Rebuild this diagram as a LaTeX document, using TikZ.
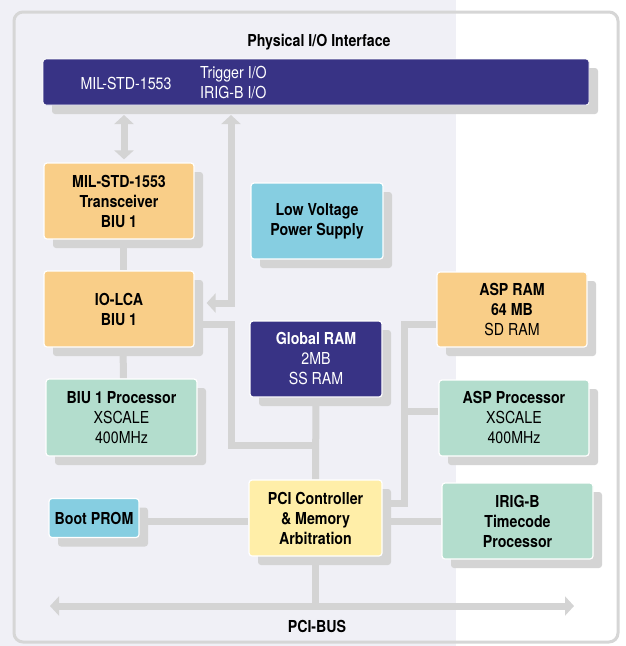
\documentclass[tikz,border=0pt]{standalone}
\usepackage{fontspec}
\setmainfont{TeX Gyre Heros}[FakeStretch=0.86]
\usetikzlibrary{arrows.meta,shadows}

\definecolor{bgpane}{HTML}{F0F0F6}
\definecolor{rimgray}{HTML}{D6D6D6}
\definecolor{wiregray}{HTML}{D4D4D4}
\definecolor{navy}{HTML}{383385}
\definecolor{apricot}{HTML}{F9CE88}
\definecolor{mint}{HTML}{B3DDCD}
\definecolor{sky}{HTML}{86CEE1}
\definecolor{butter}{HTML}{FFEEA8}

\pgfdeclarelayer{back}
\pgfdeclarelayer{wires}
\pgfsetlayers{back,wires,main}

\begin{document}
\begin{tikzpicture}[x=1pt,y=-1pt,
  every node/.style={font=\fontsize{16.5}{20}\selectfont},
  hd/.style={font=\fontsize{16.5}{20}\selectfont\bfseries},
  blk/.style={rounded corners=3pt,draw=white,line width=1.2pt,inner sep=0pt,align=center,
    minimum width=150pt,minimum height=76pt,
    drop shadow={opacity=1,fill=wiregray,shadow xshift=9pt,shadow yshift=-9pt}},
  wire/.style={draw=wiregray,line width=7pt},
  bus/.style={wire,<->},
  >={Triangle[width=19pt,length=9pt]}]
\useasboundingbox (0,0) rectangle (625,646);

% interface bar
\node[blk,fill=navy,minimum width=546pt,minimum height=46pt,line width=0.8pt] (phy) at (316,82) {};
\node[hd] (phytitle) at (319,42) {Physical I/O Interface};
\node[text=white] (milbus) at (126,83) {MIL-STD-1553};
\node[text=white,align=left,anchor=west,inner sep=0pt] (trigio) at (200,82.5) {Trigger I/O\\IRIG-B I/O};

% left column
\node[blk,hd,fill=apricot] (trx) at (119,201) {MIL-STD-1553\\Transceiver\\BIU 1};
\node[blk,hd,fill=apricot] (iolca) at (119,309) {IO-LCA\\BIU 1};
\node[blk,fill=mint,minimum width=151pt,minimum height=77pt] (biuproc) at (121.5,417.5) {\textbf{BIU 1 Processor}\\XSCALE\\400MHz};
\node[blk,hd,fill=sky,minimum width=90pt,minimum height=39pt] (boot) at (94,518) {Boot PROM};

% middle column
\node[blk,hd,fill=sky,minimum width=132pt] (lvps) at (317,221) {Low Voltage\\Power Supply};
\node[blk,fill=navy,text=white,minimum width=132pt] (gram) at (316,359) {\textbf{Global RAM}\\2MB\\SS RAM};
\node[blk,hd,fill=butter,minimum width=133pt] (pci) at (315.5,518) {PCI Controller\\\& Memory\\Arbitration};

% right column
\node[blk,fill=apricot,minimum height=75pt] (aspram) at (512,309.5) {\textbf{ASP RAM}\\\textbf{64 MB}\\SD RAM};
\node[blk,fill=mint] (aspproc) at (514,418) {\textbf{ASP Processor}\\XSCALE\\400MHz};
\node[blk,hd,fill=mint,minimum width=151pt] (irig) at (517.5,521) {IRIG-B\\Timecode\\Processor};

\node[hd] (pcibus) at (317,626) {PCI-BUS};

\coordinate (miltip) at (124,115);
\coordinate (trigtip) at (231,115);
\coordinate (biubend) at (231,445);
\coordinate (aspbend) at (404,503);
\coordinate (busL) at (50,606);
\coordinate (busR) at (574,606);

\begin{pgfonlayer}{wires}
\draw[bus] (miltip) -- ([xshift=5pt,yshift=3pt]trx.north);
\draw[bus] (trigtip) |- ([xshift=12pt,yshift=6pt]iolca.east);
\draw[wire] ([xshift=4pt]trx.south) -- ([xshift=4pt]iolca.north);
\draw[wire] ([xshift=4pt]iolca.south) -- ([xshift=2pt]biuproc.north);
\draw[wire] ([yshift=-15pt]iolca.east) -| (biubend) -- (biubend -| pci.north);
\draw[wire] (gram.south) -- (pci.north);
\draw[wire] ([yshift=-3pt]boot.east) -- ([yshift=-3pt]pci.west);
\draw[wire] ([yshift=-3pt]pci.east) -- (irig.west);
\draw[wire] ([yshift=-15pt]aspram.west) -| (aspbend) -- ([yshift=15pt]pci.east);
\draw[wire] ([yshift=7pt]aspproc.west) -- ++(-35,0);
\draw[wire] (pci.south) -- (pci.south |- busL);
\draw[bus] (busL) -- (busR);
\end{pgfonlayer}

\begin{pgfonlayer}{back}
\fill[white] (0,0) rectangle (625,646);
\fill[bgpane] (0,0) rectangle (456,646);
\draw[rimgray,line width=3pt,rounded corners=9pt] (14,12) rectangle (618,642);
\end{pgfonlayer}
\end{tikzpicture}
\end{document}
